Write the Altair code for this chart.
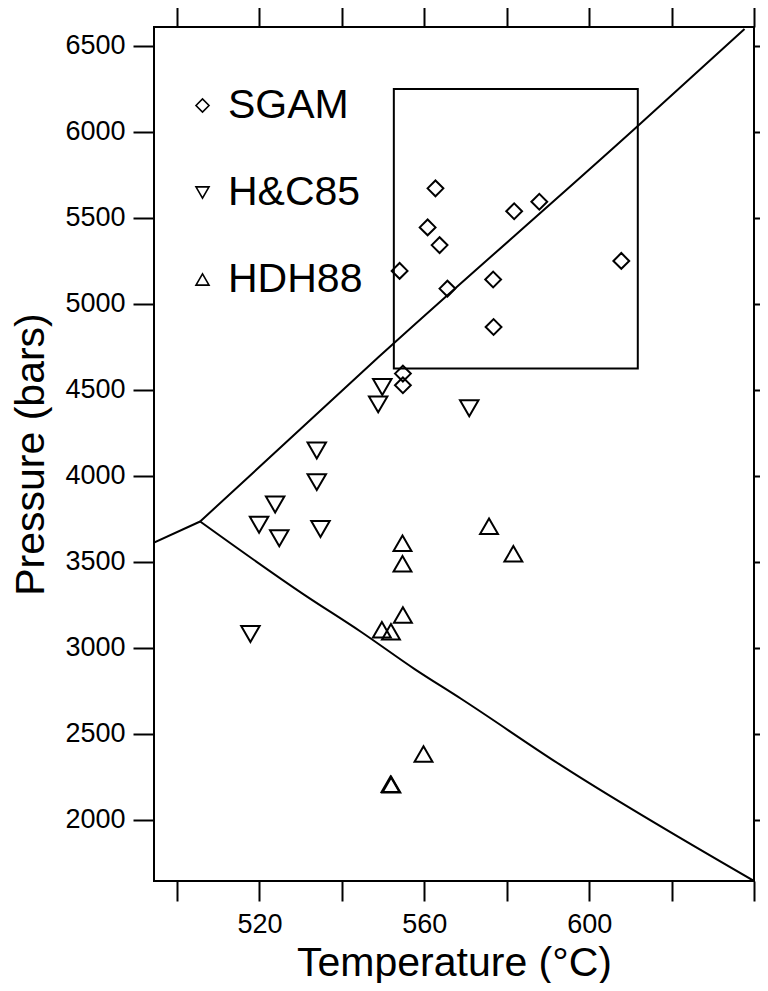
import altair as alt
import pandas as pd

# ---------------- data ----------------
series_names = ["SGAM", "H&C85", "HDH88"]
series_shapes = ["diamond", "triangle-down", "triangle-up"]

sgam_T = [562.7, 560.8, 563.7, 581.8, 587.9, 554.0, 565.6, 576.7, 576.8, 607.8, 554.8, 554.8]
sgam_P = [5672, 5445, 5342, 5539, 5594, 5192, 5089, 5142, 4866, 5250, 4595, 4527]

hc85_T = [549.8, 548.8, 533.9, 533.9, 523.8, 519.9, 524.8, 534.8, 517.8, 570.9]
hc85_P = [4517, 4416, 4148, 3964, 3834, 3716, 3638, 3692, 3081, 4393]

hdh88_T = [575.7, 581.6, 554.7, 554.7, 554.8, 549.7, 551.9, 559.8, 551.8, 552.0]
hdh88_P = [3708, 3547, 3609, 3489, 3192, 3106, 3094, 2383, 2208, 2205]

upper_T = [505.6, 548.9, 611.6, 637.7]
upper_P = [3735, 4691, 6030, 6599]
left_T = [494.4, 505.6]
left_P = [3612, 3735]
lower_T = [505.6, 530.8, 544.6, 557.65, 569.0, 593.4, 640.0]
lower_P = [3735, 3310, 3094, 2877, 2703, 2314, 1645]

box_T = [552.6, 611.8]
box_P = [4625, 6250]

x_domain = [494.4, 640]
y_domain = [1645, 6610]
x_ticks = [500, 520, 540, 560, 580, 600, 620, 640]
x_labels = [520, 560, 600]
y_ticks = [2000, 2500, 3000, 3500, 4000, 4500, 5000, 5500, 6000, 6500]

# ---------------- tables ----------------
rows = []
for name, Ts, Ps in zip(series_names, [sgam_T, hc85_T, hdh88_T], [sgam_P, hc85_P, hdh88_P]):
    for t, p in zip(Ts, Ps):
        rows.append({"series": name, "T": t, "P": p})
pts_df = pd.DataFrame(rows)

lrows = []
for seg, Ts, Ps in [("upper", upper_T, upper_P), ("left", left_T, left_P), ("lower", lower_T, lower_P)]:
    for i, (t, p) in enumerate(zip(Ts, Ps)):
        lrows.append({"seg": seg, "i": i, "T": t, "P": p})
lines_df = pd.DataFrame(lrows)

box_df = pd.DataFrame({"x1": [box_T[0]], "x2": [box_T[1]], "y1": [box_P[0]], "y2": [box_P[1]]})

FONT = "Liberation Sans"
xscale = alt.Scale(domain=x_domain, nice=False, zero=False)
yscale = alt.Scale(domain=y_domain, nice=False, zero=False)
shape_scale = alt.Scale(domain=series_names, range=series_shapes)

label_expr = "indexof([" + ",".join(str(v) for v in x_labels) + "], datum.value) >= 0 ? datum.label : ''"

bottom_axis = alt.Axis(
    orient="bottom", values=x_ticks, labelExpr=label_expr, format="d",
    tickSize=20, tickWidth=2, tickColor="black", domain=False, grid=False,
    labelFont=FONT, labelFontSize=27, labelColor="black", labelPadding=10,
    labelOverlap=False, labelFlush=False,
    title="Temperature (°C)", titleFont=FONT, titleFontSize=41,
    titleFontWeight="normal", titleColor="black", titlePadding=6,
)
left_axis = alt.Axis(
    orient="left", values=y_ticks, format="d",
    tickSize=21, tickWidth=2, tickColor="black", domain=False, grid=False,
    labelFont=FONT, labelFontSize=27, labelColor="black", labelPadding=8,
    labelOverlap=False, labelFlush=False,
    title="Pressure (bars)", titleFont=FONT, titleFontSize=41,
    titleFontWeight="normal", titleColor="black", titlePadding=12,
)
top_axis = alt.Axis(
    orient="top", values=x_ticks, labels=False, tickSize=21, tickWidth=2,
    tickColor="black", domain=False, grid=False, title=None,
)
right_axis = alt.Axis(
    orient="right", values=y_ticks, labels=False, tickSize=21, tickWidth=2,
    tickColor="black", domain=False, grid=False, title=None,
)

legend = alt.Legend(
    title=None, orient="none", legendX=28, legendY=58, direction="vertical",
    labelFont=FONT, labelFontSize=41, labelColor="black", labelOffset=5,
    symbolSize=170, symbolStrokeWidth=1.6, symbolStrokeColor="black",
    symbolFillColor="white", rowPadding=45, padding=0,
)

lines = alt.Chart(lines_df).mark_line(
    color="black", strokeWidth=2, clip=True, interpolate="monotone"
).encode(
    x=alt.X("T:Q", scale=xscale, axis=None),
    y=alt.Y("P:Q", scale=yscale, axis=None),
    detail="seg:N",
    order="i:Q",
)

box = alt.Chart(box_df).mark_rect(fillOpacity=0, stroke="black", strokeWidth=2).encode(
    x=alt.X("x1:Q", scale=xscale, axis=top_axis),
    x2="x2:Q",
    y=alt.Y("y1:Q", scale=yscale, axis=right_axis),
    y2="y2:Q",
)

marker_sizes = {"SGAM": 250, "H&C85": 340, "HDH88": 320}


def series_layer(name, with_axes):
    return alt.Chart(pts_df).transform_filter(
        alt.datum.series == name
    ).mark_point(filled=False, color="black", strokeWidth=2, opacity=1, size=marker_sizes[name]).encode(
        x=alt.X("T:Q", scale=xscale, axis=bottom_axis if with_axes else None),
        y=alt.Y("P:Q", scale=yscale, axis=left_axis if with_axes else None),
        shape=alt.Shape("series:N", scale=shape_scale, legend=legend),
    )


pts_layers = [series_layer(n, i == 0) for i, n in enumerate(series_names)]

chart = (
    alt.layer(lines, box, *pts_layers)
    .resolve_axis(x="independent", y="independent")
    .properties(
        width=600, height=854,
        autosize=alt.AutoSizeParams(type="none"),
        padding={"left": 146, "top": 19, "right": 6, "bottom": 102},
    )
    .configure_view(stroke="black", strokeWidth=2)
)

chart.save("out.html", embed_options={"renderer": "svg", "actions": False})
